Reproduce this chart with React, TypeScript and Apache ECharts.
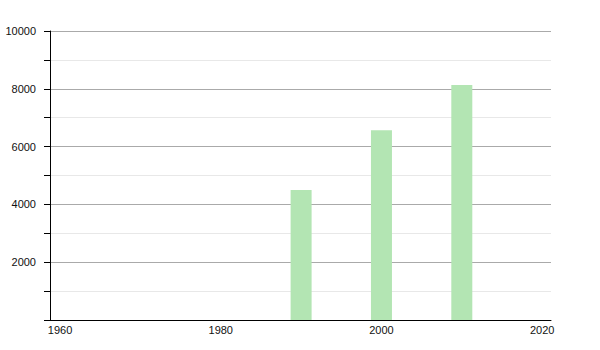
import React, { useEffect, useRef } from "react";
import * as echarts from "echarts";

const years = [1990, 2000, 2010];
const population = [4500, 6570, 8130];
const xTickLabels = [1960, 1980, 2000, 2020];

export default function App() {
  const ref = useRef<HTMLDivElement>(null);
  useEffect(() => {
    if (!ref.current) return;
    const chart = echarts.init(ref.current, null, { renderer: "svg" });
    chart.setOption({
      animation: false,
      backgroundColor: "#ffffff",
      grid: { left: 50, right: 49, top: 31, bottom: 30, containLabel: false },
      xAxis: {
        type: "value",
        min: 1958.75,
        max: 2021.1,
        axisLine: { show: true, lineStyle: { color: "#000", width: 1 } },
        axisTick: { show: false },
        splitLine: { show: false },
        axisLabel: {
          customValues: xTickLabels,
          color: "#111",
          fontSize: 11,
          fontFamily: "Liberation Sans, Arial, sans-serif",
          margin: 4,
          formatter: (v: number) => String(v),
        },
      },
      yAxis: {
        type: "value",
        min: 0,
        max: 10000,
        interval: 2000,
        axisLine: { show: true, lineStyle: { color: "#000", width: 1 } },
        axisTick: { show: true, length: 6, lineStyle: { color: "#000" } },
        minorTick: { show: true, splitNumber: 2, length: 6, lineStyle: { color: "#000" } },
        splitLine: { show: true, lineStyle: { color: "#aaaaaa", width: 1 } },
        minorSplitLine: { show: true, lineStyle: { color: "#e8e8e8", width: 1 } },
        axisLabel: {
          color: "#111",
          fontSize: 11,
          fontFamily: "Liberation Sans, Arial, sans-serif",
          margin: 14,
          formatter: (v: number) => (v === 0 ? "" : String(v)),
        },
      },
      series: [
        {
          type: "bar",
          data: years.map((y, i) => [y, population[i]]),
          barWidth: 21,
          itemStyle: { color: "#b3e5b3" },
        },
      ],
    });
    return () => chart.dispose();
  }, []);
  return <div ref={ref} style={{ width: 600, height: 350, position: "absolute", left: 0, top: 0 }} />;
}
